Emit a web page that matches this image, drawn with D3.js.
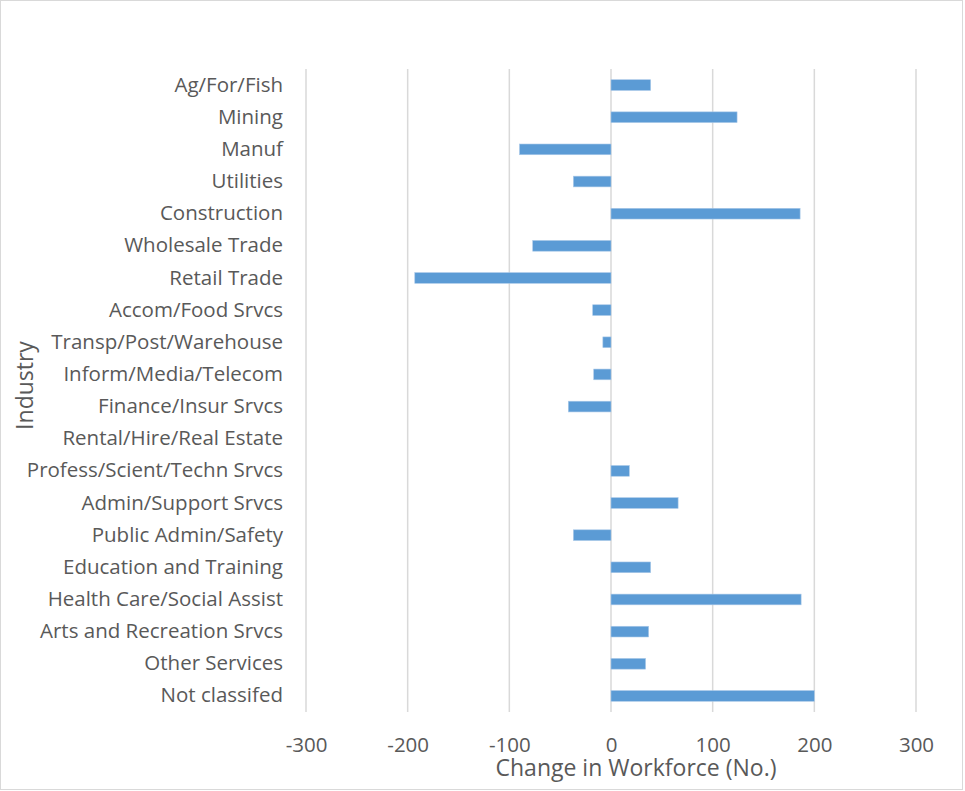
<!DOCTYPE html>
<html>
<head>
<meta charset="utf-8">
<script src="https://cdn.jsdelivr.net/npm/d3@7"></script>
<style>
  body { margin: 0; background: #fff; }
  svg text { font-family: "Open Sans", sans-serif; fill: #595959; }
</style>
</head>
<body>
<script>
var industries = [
    'Ag/For/Fish', 'Mining', 'Manuf', 'Utilities', 'Construction',
    'Wholesale Trade', 'Retail Trade', 'Accom/Food Srvcs', 'Transp/Post/Warehouse',
    'Inform/Media/Telecom', 'Finance/Insur Srvcs', 'Rental/Hire/Real Estate',
    'Profess/Scient/Techn Srvcs', 'Admin/Support Srvcs', 'Public Admin/Safety',
    'Education and Training', 'Health Care/Social Assist', 'Arts and Recreation Srvcs',
    'Other Services', 'Not classifed'
];
var change = [39, 124, -90, -37, 186, -77, -193, -18, -8, -17, -42, 0, 18, 66, -37, 39, 187, 37, 34, 200];
var xTicks = [-300, -200, -100, 0, 100, 200, 300];

var data = industries.map(function (d, i) { return { name: d, value: change[i] }; });

var svg = d3.select('body').append('svg')
    .attr('width', 965)
    .attr('height', 791);

// chart border
svg.append('rect')
    .attr('x', 0.5).attr('y', 0.5)
    .attr('width', 962).attr('height', 789)
    .attr('fill', 'none')
    .attr('stroke', '#d9d9d9');

var margin = { top: 69, left: 306, right: 49, bottom: 79 },
    width = 965 - margin.left - margin.right,
    height = 791 - margin.top - margin.bottom,
    g = svg.append('g').attr('transform', 'translate(' + margin.left + ',' + margin.top + ')');

var x = d3.scaleLinear()
    .domain([-300, 300])
    .range([0, width]);

var y = d3.scaleBand()
    .domain(industries)
    .range([0, height])
    .paddingInner(2 / 3)
    .paddingOuter(1 / 3);

// gridlines
g.append('g').selectAll('line')
    .data(xTicks)
    .enter().append('line')
    .attr('x1', function (d) { return x(d); })
    .attr('x2', function (d) { return x(d); })
    .attr('y1', 0)
    .attr('y2', height)
    .attr('stroke', '#d9d9d9')
    .attr('stroke-width', 1.5);

g.append('g').selectAll('rect')
    .data(data)
    .enter().append('rect')
    .attr('x', function (d) { return x(Math.min(0, d.value)); })
    .attr('y', function (d) { return y(d.name); })
    .attr('width', function (d) { return Math.abs(x(d.value) - x(0)); })
    .attr('height', y.bandwidth())
    .attr('fill', '#5b9bd5')
    .attr('stroke', '#a9c8e8')
    .attr('stroke-width', 0.6);

// category labels
var yAxis = g.append('g')
    .call(d3.axisLeft(y).tickSize(0).tickPadding(23));
yAxis.select('.domain').remove();
yAxis.selectAll('text')
    .style('font-size', '20.5px')
    .attr('fill', '#595959');

// value labels (plain hyphen minus like the original)
var xAxis = g.append('g')
    .attr('transform', 'translate(0,' + height + ')')
    .call(d3.axisBottom(x).tickValues(xTicks).tickSize(0).tickPadding(25)
        .tickFormat(function (d) { return String(d); }));
xAxis.select('.domain').remove();
xAxis.selectAll('text')
    .style('font-size', '20.5px')
    .attr('fill', '#595959');

g.append('text')
    .attr('x', 330)
    .attr('y', height + 64)
    .style('text-anchor', 'middle')
    .style('font-size', '23px')
    .text('Change in Workforce (No.)');

g.append('text')
    .attr('transform', 'rotate(-90)')
    .attr('x', -height / 2 + 5)
    .attr('y', -273)
    .style('text-anchor', 'middle')
    .style('font-size', '23px')
    .text('Industry');
</script>
</body>
</html>
